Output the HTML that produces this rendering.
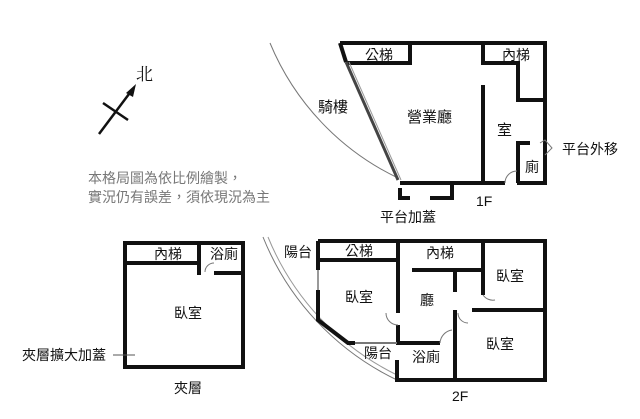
<!DOCTYPE html>
<html><head><meta charset="utf-8"><style>
body{margin:0;background:#fff;}
svg text{font-family:"Liberation Sans","Noto Sans CJK TC",sans-serif;fill:#111;}
</style></head><body>
<svg width="640" height="414" viewBox="0 0 640 414" xmlns="http://www.w3.org/2000/svg">
<rect width="640" height="414" fill="#fff"/>
<line x1="99" y1="134" x2="132" y2="90" stroke="#111" stroke-width="2.5"/>
<polygon points="136,84 126,93 133,97" fill="#111"/>
<line x1="103" y1="103" x2="128" y2="120" stroke="#111" stroke-width="2.5"/>
<text x="136" y="80" font-size="17" style="font-family:'Noto Serif CJK SC',serif">北</text>
<text x="88" y="183" font-size="14" style="fill:#777">本格局圖為依比例繪製，</text>
<text x="88" y="202" font-size="14" style="fill:#777">實況仍有誤差，須依現況為主</text>

<path d="M270,43 A260,260 0 0 0 398,178" fill="none" stroke="#777" stroke-width="1"/>
<g fill="none" stroke="#111" stroke-width="4">
<path d="M340,43 L545,43 L545,183 L517,183"/>
<path d="M505,183 L400,183"/>
<path d="M340,43 L346,62"/>
<path d="M346,63 L410,63 L410,43"/>
<path d="M483,43 L483,63 L518,63 L518,100 L545,100"/>
<path d="M483,85 L483,183"/>
<path d="M530,143 L518,143 L518,183"/>
<path d="M400,188 L400,198 L410,198 M430,198 L452,198 L452,183"/>
</g>
<line x1="346" y1="62" x2="398" y2="180" stroke="#444" stroke-width="3"/>
<line x1="349" y1="62" x2="401" y2="180" stroke="#999" stroke-width="1"/>
<path d="M505,183 A12,12 0 0 1 517,171" fill="none" stroke="#777"/>
<path d="M540,143 L545,140 L552,148 L545,155" fill="none" stroke="#777"/>
<text x="365" y="60" font-size="14">公梯</text>
<text x="502" y="60" font-size="14">內梯</text>
<text x="318" y="112" font-size="15">騎樓</text>
<text x="407" y="122" font-size="15">營業廳</text>
<text x="497" y="135" font-size="15">室</text>
<text x="525" y="172" font-size="14">廁</text>
<text x="562" y="154" font-size="14">平台外移</text>
<text x="476" y="206" font-size="14">1F</text>
<text x="380" y="222" font-size="14">平台加蓋</text>

<g fill="none" stroke="#111" stroke-width="4">
<rect x="125" y="243" width="118" height="124"/>
<path d="M125,263 L199,263 L199,275"/>
<path d="M199,243 L199,263 M214,273 L243,273"/>
</g>
<path d="M205,272 A9,9 0 0 1 214,263" fill="none" stroke="#777"/>
<text x="154" y="259" font-size="14">內梯</text>
<text x="210" y="259" font-size="14">浴廁</text>
<text x="174" y="318" font-size="14">臥室</text>
<text x="22" y="360" font-size="14">夾層擴大加蓋</text>
<line x1="113" y1="355" x2="135" y2="355" stroke="#555"/>
<text x="174" y="393" font-size="14">夾層</text>

<path d="M263,237 A270,270 0 0 0 397,380" fill="none" stroke="#777" stroke-width="1"/>
<path d="M268,237 A265,265 0 0 0 397,375" fill="none" stroke="#999" stroke-width="1"/>
<g fill="none" stroke="#111" stroke-width="4">
<path d="M318,241 L545,241 L545,380 L397,380 L397,360"/>
<path d="M318,241 L318,270 M318,290 L318,320 L348,343 L355,343"/>
<path d="M318,260 L398,260"/>
<path d="M398,241 L398,313 M398,325 L398,343 L440,343"/>
<path d="M412,270 L483,270 M483,241 L483,295"/>
<path d="M472,310 L545,310"/>
<path d="M455,272 L455,292 M455,310 L455,380"/>
</g>
<line x1="355" y1="343" x2="397" y2="343" stroke="#777" stroke-width="2"/>
<line x1="318" y1="270" x2="318" y2="290" stroke="#999" stroke-width="2"/>
<path d="M386,313 A12,12 0 0 0 398,325" fill="none" stroke="#777"/>
<path d="M483,295 A12,12 0 0 0 495,300" fill="none" stroke="#777"/>
<path d="M458,313 A10,10 0 0 0 468,323" fill="none" stroke="#777"/>
<path d="M440,343 A14,14 0 0 1 452,330" fill="none" stroke="#777"/>
<text x="284" y="257" font-size="14">陽台</text>
<text x="345" y="256" font-size="14">公梯</text>
<text x="426" y="258" font-size="14">內梯</text>
<text x="345" y="302" font-size="14">臥室</text>
<text x="420" y="305" font-size="14">廳</text>
<text x="496" y="281" font-size="14">臥室</text>
<text x="486" y="349" font-size="14">臥室</text>
<text x="364" y="358" font-size="14">陽台</text>
<text x="412" y="362" font-size="14">浴廁</text>
<text x="452" y="401" font-size="14">2F</text>
</svg>
</body></html>
